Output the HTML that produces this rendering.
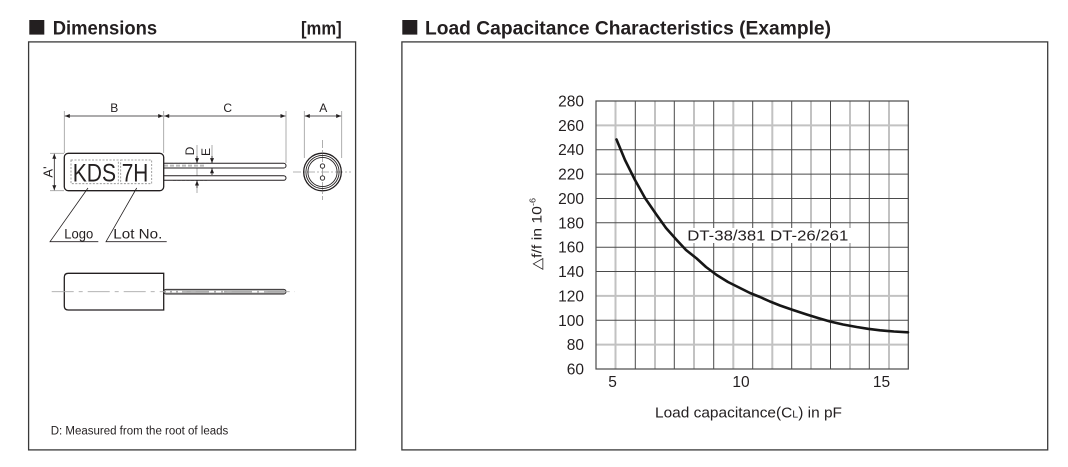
<!DOCTYPE html>
<html>
<head>
<meta charset="utf-8">
<style>
html,body{margin:0;padding:0;background:#fff;}
svg{display:block;font-family:"Liberation Sans","DejaVu Sans",sans-serif;}
</style>
</head>
<body>
<svg width="1068" height="467" viewBox="0 0 1068 467" xmlns="http://www.w3.org/2000/svg">
<defs>
<marker id="ar" viewBox="0 0 10 10" refX="10" refY="5" markerWidth="7" markerHeight="5" orient="auto-start-reverse" markerUnits="userSpaceOnUse">
<path d="M0,1 L10,5 L0,9 z" fill="#231f20"/>
</marker>
</defs>
<rect width="1068" height="467" fill="#fff"/>

<!-- ===== Left panel ===== -->
<rect x="29.3" y="20" width="15" height="14.6" fill="#231f20"/>
<text x="52.7" y="34.5" font-size="19" font-weight="bold" fill="#231f20" textLength="104.5" lengthAdjust="spacingAndGlyphs">Dimensions</text>
<text x="301" y="34.5" font-size="18" font-weight="bold" fill="#231f20" textLength="40.7" lengthAdjust="spacingAndGlyphs">[mm]</text>
<rect x="28.6" y="41.9" width="327" height="408" fill="none" stroke="#3a3a3a" stroke-width="1.3"/>

<!-- extension lines -->
<g stroke="#9a9a9a" stroke-width="0.8" fill="none">
<line x1="64.3" y1="111" x2="64.3" y2="153"/>
<line x1="163.7" y1="111" x2="163.7" y2="153"/>
<line x1="286" y1="111" x2="286" y2="163"/>
<line x1="304.3" y1="111" x2="304.3" y2="158"/>
<line x1="341.7" y1="111" x2="341.7" y2="158"/>
<line x1="50" y1="153.3" x2="64" y2="153.3"/>
<line x1="50" y1="190.7" x2="64" y2="190.7"/>
<line x1="197" y1="145" x2="197" y2="193"/>
<line x1="212" y1="145" x2="212" y2="175"/>
<line x1="152" y1="163.3" x2="214" y2="163.3" stroke-dasharray="3,1.5"/>
<line x1="173" y1="180.3" x2="207" y2="180.3" stroke-dasharray="3,1.5"/>
</g>
<!-- dimension lines -->
<g stroke="#231f20" stroke-width="0.8" fill="none">
<line x1="64.8" y1="116" x2="163.2" y2="116" marker-start="url(#ar)" marker-end="url(#ar)"/>
<line x1="164.2" y1="116" x2="285.5" y2="116" marker-start="url(#ar)" marker-end="url(#ar)"/>
<line x1="304.8" y1="116" x2="341.2" y2="116" marker-start="url(#ar)" marker-end="url(#ar)"/>
<line x1="54.3" y1="153.8" x2="54.3" y2="190.2" marker-start="url(#ar)" marker-end="url(#ar)"/>
<line x1="197" y1="156" x2="197" y2="163.1" marker-end="url(#ar)"/>
<line x1="197" y1="188" x2="197" y2="180.5" marker-end="url(#ar)"/>
<line x1="212" y1="156" x2="212" y2="163.1" marker-end="url(#ar)"/>
<line x1="212" y1="175" x2="212" y2="168.2" marker-end="url(#ar)"/>
</g>
<g font-size="12" fill="#231f20" text-anchor="middle">
<text x="114.3" y="112">B</text>
<text x="227.7" y="112">C</text>
<text x="323.3" y="112">A</text>
<text transform="translate(194,151) rotate(-90)">D</text>
<text transform="translate(210,152) rotate(-90)">E</text>
<text transform="translate(52.5,172) rotate(-90)" font-size="13">A'</text>
</g>

<!-- leads -->
<rect x="160" y="163.3" width="126" height="4.7" rx="2.3" fill="#fff" stroke="#231f20" stroke-width="1"/>
<rect x="160" y="175.7" width="126" height="4.6" rx="2.3" fill="#fff" stroke="#231f20" stroke-width="1"/>
<line x1="164" y1="165.6" x2="205" y2="165.6" stroke="#bbb" stroke-width="2" stroke-dasharray="4,2"/>
<!-- body -->
<rect x="64.3" y="153.3" width="99.4" height="37.4" rx="4" fill="#fff" stroke="#231f20" stroke-width="1.3"/>
<rect x="71" y="160" width="47.3" height="23.7" fill="none" stroke="#888" stroke-width="0.8" stroke-dasharray="2,1.5"/>
<rect x="120.7" y="160" width="31" height="23.7" fill="none" stroke="#888" stroke-width="0.8" stroke-dasharray="2,1.5"/>
<text x="72.7" y="181.7" font-size="25" fill="#231f20" textLength="43.3" lengthAdjust="spacingAndGlyphs">KDS</text>
<text x="121.7" y="181.7" font-size="25" fill="#231f20" textLength="26.6" lengthAdjust="spacingAndGlyphs">7H</text>

<!-- end view -->
<g stroke="#9a9a9a" stroke-width="0.8" stroke-dasharray="8,2,2,2">
<line x1="293" y1="172" x2="351" y2="172"/>
<line x1="322.5" y1="140" x2="322.5" y2="200"/>
</g>
<circle cx="322.5" cy="172" r="18.8" fill="none" stroke="#231f20" stroke-width="1.3"/>
<circle cx="322.5" cy="172" r="16.6" fill="none" stroke="#231f20" stroke-width="0.9"/>
<circle cx="322.5" cy="172" r="14.6" fill="none" stroke="#231f20" stroke-width="0.9"/>
<circle cx="322.5" cy="166" r="2.2" fill="#fff" stroke="#231f20" stroke-width="0.9"/>
<circle cx="322.5" cy="178" r="2.2" fill="#fff" stroke="#231f20" stroke-width="0.9"/>

<!-- leaders -->
<g stroke="#231f20" stroke-width="0.8" fill="none">
<polyline points="88,188 50,241.7 98.3,241.7"/>
<polyline points="136.7,188 106,241.7 166.7,241.7"/>
</g>
<text x="64.3" y="238.5" font-size="14" fill="#231f20" textLength="29" lengthAdjust="spacingAndGlyphs">Logo</text>
<text x="113.3" y="238.5" font-size="14" fill="#231f20" textLength="49" lengthAdjust="spacingAndGlyphs">Lot No.</text>

<!-- side view -->
<rect x="163.7" y="289.3" width="122.3" height="4.7" rx="2.3" fill="#b5b5b5" stroke="#231f20" stroke-width="0.9"/>
<path d="M163.7,273.3 L68.3,273.3 Q64.3,273.3 64.3,277.3 L64.3,306 Q64.3,310 68.3,310 L163.7,310 Z" fill="#fff" stroke="#231f20" stroke-width="1.3"/>
<line x1="51.7" y1="291.7" x2="295" y2="291.7" stroke="#a8a8a8" stroke-width="0.9" stroke-dasharray="22,5,4,5"/>
<g stroke="#fff" stroke-width="1.6">
<line x1="166" y1="291.7" x2="182" y2="291.7" stroke-dasharray="4,2"/>
<line x1="209" y1="291.7" x2="224" y2="291.7" stroke-dasharray="5,2"/>
<line x1="252" y1="291.7" x2="266" y2="291.7" stroke-dasharray="5,2"/>
</g>

<text x="50.7" y="434.5" font-size="11.5" fill="#231f20" textLength="177.6" lengthAdjust="spacingAndGlyphs">D: Measured from the root of leads</text>

<!-- ===== Right panel ===== -->
<rect x="402.3" y="20" width="15" height="14.6" fill="#231f20"/>
<text x="425" y="34.5" font-size="19" font-weight="bold" fill="#231f20" textLength="406" lengthAdjust="spacingAndGlyphs">Load Capacitance Characteristics (Example)</text>
<rect x="401.9" y="41.9" width="645.8" height="408" fill="none" stroke="#3a3a3a" stroke-width="1.3"/>

<!-- grid: gray vertical lines -->
<g stroke="#c2c2c2" stroke-width="2">
<line x1="615.5" y1="101" x2="615.5" y2="369"/>
<line x1="655" y1="101" x2="655" y2="369"/>
<line x1="694" y1="101" x2="694" y2="369"/>
<line x1="733.3" y1="101" x2="733.3" y2="369"/>
<line x1="772.3" y1="101" x2="772.3" y2="369"/>
<line x1="811" y1="101" x2="811" y2="369"/>
<line x1="850" y1="101" x2="850" y2="369"/>
<line x1="889" y1="101" x2="889" y2="369"/>
<line x1="596" y1="125.4" x2="908.3" y2="125.4"/>
<line x1="596" y1="295.9" x2="908.3" y2="295.9"/>
<line x1="596" y1="344.6" x2="908.3" y2="344.6"/>
</g>
<!-- dark lines -->
<g stroke="#4a4a4a" stroke-width="1">
<line x1="635.3" y1="101" x2="635.3" y2="369"/>
<line x1="674.3" y1="101" x2="674.3" y2="369"/>
<line x1="713.7" y1="101" x2="713.7" y2="369"/>
<line x1="752.7" y1="101" x2="752.7" y2="369"/>
<line x1="791.7" y1="101" x2="791.7" y2="369"/>
<line x1="830.5" y1="101" x2="830.5" y2="369"/>
<line x1="869.3" y1="101" x2="869.3" y2="369"/>
<line x1="596" y1="149.7" x2="908.3" y2="149.7"/>
<line x1="596" y1="174.1" x2="908.3" y2="174.1"/>
<line x1="596" y1="198.5" x2="908.3" y2="198.5"/>
<line x1="596" y1="222.8" x2="908.3" y2="222.8"/>
<line x1="596" y1="247.2" x2="908.3" y2="247.2"/>
<line x1="596" y1="271.5" x2="908.3" y2="271.5"/>
<line x1="596" y1="320.3" x2="908.3" y2="320.3"/>
</g>
<rect x="596" y="101" width="312.3" height="268" fill="none" stroke="#4a4a4a" stroke-width="1.2"/>

<!-- label box -->
<rect x="684" y="228" width="167" height="15" fill="#fff"/>
<text x="687.3" y="240.7" font-size="15" fill="#231f20" textLength="161" lengthAdjust="spacingAndGlyphs">DT-38/381 DT-26/261</text>

<!-- curve -->
<polyline fill="none" stroke="#161616" stroke-width="2.6" stroke-linejoin="round" stroke-linecap="round"
points="616.5,139.5 625,160 635,180 645,198 656.7,215 666,228 676.7,240 686,250 696.7,258.5 706,267 716.7,275 728,282 740,288 750,293 760,297 770,301.5 780,305.5 793,310 806.7,314.5 818,318 830,321.5 843,324.5 856.7,327 868,328.8 880,330.3 894,331.5 908,332.3"/>

<!-- y tick labels -->
<g font-size="15.5" fill="#231f20" text-anchor="end">
<text x="584" y="106.5">280</text>
<text x="584" y="130.9">260</text>
<text x="584" y="155.2">240</text>
<text x="584" y="179.6">220</text>
<text x="584" y="204">200</text>
<text x="584" y="228.3">180</text>
<text x="584" y="252.7">160</text>
<text x="584" y="277">140</text>
<text x="584" y="301.4">120</text>
<text x="584" y="325.8">100</text>
<text x="584" y="350.1">80</text>
<text x="584" y="374.5">60</text>
</g>
<!-- x tick labels -->
<g font-size="15.5" fill="#231f20" text-anchor="middle">
<text x="612.5" y="387.2">5</text>
<text x="741" y="387.2">10</text>
<text x="881.5" y="387.2">15</text>
</g>
<text x="655" y="417.5" font-size="14.5" fill="#231f20" textLength="187" lengthAdjust="spacingAndGlyphs">Load capacitance(C<tspan font-size="10">L</tspan>) in pF</text>
<text transform="translate(541.5,270) rotate(-90)" font-size="14" fill="#231f20" textLength="72" lengthAdjust="spacingAndGlyphs">△f/f in 10<tspan font-size="8" dy="-6">-6</tspan></text>
</svg>
</body>
</html>
